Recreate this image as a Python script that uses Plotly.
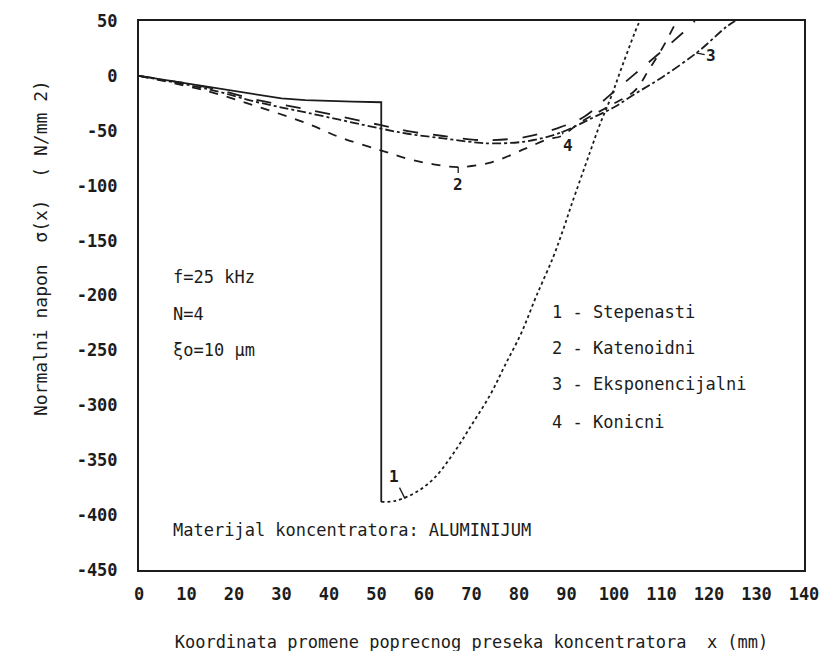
import plotly.graph_objects as go

# ---- data ----
# Curve 1 - Stepenasti (stepped horn): solid part up to the step, then rising branch
x1_step = [0, 10, 20, 25, 30, 35, 40, 45, 51, 51]
y1_step = [0, -7, -14, -17.5, -20.5, -22, -23, -23.5, -24, -388]
x1_rise = [51, 54, 58, 62, 66, 70, 74, 77, 80.5, 83.6, 87.2, 89.3, 91, 94.9, 97, 99.4, 101.9, 105.1, 105.5]
y1_rise = [-388, -387, -380, -367, -345, -318, -290, -264, -234, -201, -165, -140, -118, -70, -44.5, -19, 11, 47, 50]

# Curve 2 - Katenoidni
x2 = [0, 14.5, 25, 35.6, 42.6, 50.7, 56.6, 62, 67.2, 74.2, 81.2, 86.1, 88.9, 93, 98.7, 104.4, 107.2, 110, 112.8, 113.2]
y2 = [0, -14, -28, -43.7, -56.4, -67.5, -75.5, -80.5, -83, -78.7, -66.5, -57.6, -54.8, -42, -28.2, -13.4, 4.6, 24, 46.7, 50]

# Curve 3 - Eksponencijalni
x3 = [0, 14.5, 25, 35.6, 50.7, 56.6, 63.6, 70.7, 74.2, 81.2, 88.2, 95.9, 100.1, 104.4, 110, 117.7, 123.6, 125.5]
y3 = [0, -12, -24, -33.7, -47.8, -52.7, -56.7, -60.5, -61.5, -59.8, -52.5, -37.3, -28.3, -16.4, -1.6, 22.1, 44.5, 50]

# Curve 4 - Konicni
x4 = [0, 14.5, 25, 35.6, 50.7, 56.6, 63.6, 70.7, 74.2, 81.2, 88.2, 93.8, 98.7, 104.4, 109.3, 116.3, 117]
y4 = [0, -10.5, -22, -30.7, -44.7, -50.3, -54.5, -58.2, -58.5, -55.8, -47.5, -37, -19.1, 1.8, 19.7, 46.5, 50]

x_ticks = list(range(0, 141, 10))
y_ticks = list(range(-450, 51, 50))

legend_lines = ["1 - Stepenasti", "2 - Katenoidni", "3 - Eksponencijalni", "4 - Konicni"]
legend_y = [-214.6, -247.9, -281, -314.8]
params = ["f=25 kHz", "N=4", "ξo=10 μm"]
params_y = [-182.8, -216.8, -249.5]

FONT = "DejaVu Sans Mono"
INK = "#1c1c1c"
LW = 1.8

fig = go.Figure()
fig.add_trace(go.Scatter(x=x1_step, y=y1_step, mode="lines",
                         line=dict(color=INK, width=LW), showlegend=False))
fig.add_trace(go.Scatter(x=x1_rise, y=y1_rise, mode="lines", line_shape="spline",
                         line=dict(color=INK, width=LW, dash="dot"), showlegend=False))
fig.add_trace(go.Scatter(x=x2, y=y2, mode="lines", line_shape="spline",
                         line=dict(color=INK, width=LW, dash="dash"), showlegend=False))
fig.add_trace(go.Scatter(x=x3, y=y3, mode="lines", line_shape="spline",
                         line=dict(color=INK, width=LW, dash="dashdot"), showlegend=False))
fig.add_trace(go.Scatter(x=x4, y=y4, mode="lines", line_shape="spline",
                         line=dict(color=INK, width=LW, dash="longdash"), showlegend=False))

annots = []
for t, yy in zip(params, params_y):
    annots.append(dict(x=6.8, y=yy, text=t, showarrow=False, xanchor="left", yanchor="middle",
                       font=dict(family=FONT, size=17, color=INK)))
for t, yy in zip(legend_lines, legend_y):
    annots.append(dict(x=86.5, y=yy, text=t, showarrow=False, xanchor="left", yanchor="middle",
                       font=dict(family=FONT, size=17, color=INK)))
annots.append(dict(x=6.8, y=-413.5, text="Materijal koncentratora: ALUMINIJUM", showarrow=False,
                   xanchor="left", yanchor="middle", font=dict(family=FONT, size=17, color=INK)))

# curve number labels with small pointer ticks
curve_labels = [("1", 56.0, -385, -11, -22), ("2", 67.2, -83, 0, 17),
                ("3", 117.3, 21, 15, 3), ("4", 89.0, -50.5, 6, 14)]
for t, xx, yy, ax, ay in curve_labels:
    annots.append(dict(x=xx, y=yy, text=t, showarrow=True, arrowhead=0, arrowwidth=1.3,
                       arrowcolor=INK, ax=ax, ay=ay, standoff=0,
                       font=dict(family=FONT, size=16, color=INK, weight="bold")))

# y axis title (rotated)
annots.append(dict(x=-0.148, y=0.5, xref="paper", yref="paper",
                   text="Normalni napon\u00a0\u00a0σ(x)\u00a0\u00a0(\u00a0N/mm\u00a02)",
                   textangle=-90, showarrow=False, xanchor="center", yanchor="middle",
                   yshift=47, font=dict(family=FONT, size=18, color=INK)))

fig.update_layout(
    width=830, height=651,
    margin=dict(l=131, r=34, t=13, b=89),
    paper_bgcolor="white", plot_bgcolor="white",
    annotations=annots,
    xaxis=dict(range=[0, 140], tickvals=x_ticks, ticktext=[str(v) for v in x_ticks],
               showgrid=False, zeroline=False, showline=True, mirror=True,
               linecolor=INK, linewidth=2, ticks="", ticklabelstandoff=8,
               tickfont=dict(family=FONT, size=17, color=INK, weight="bold"),
               title=dict(text="Koordinata promene poprecnog preseka koncentratora\u00a0\u00a0x (mm)",
                          font=dict(family=FONT, size=17, color=INK), standoff=33),
               automargin=False),
    yaxis=dict(range=[-450, 50], tickvals=y_ticks, ticktext=[str(v) for v in y_ticks],
               showgrid=False, zeroline=False, showline=True, mirror=True,
               linecolor=INK, linewidth=2, ticks="", ticklabelstandoff=16,
               tickfont=dict(family=FONT, size=17, color=INK, weight="bold"), automargin=False),
)

fig.write_html("out.html")
